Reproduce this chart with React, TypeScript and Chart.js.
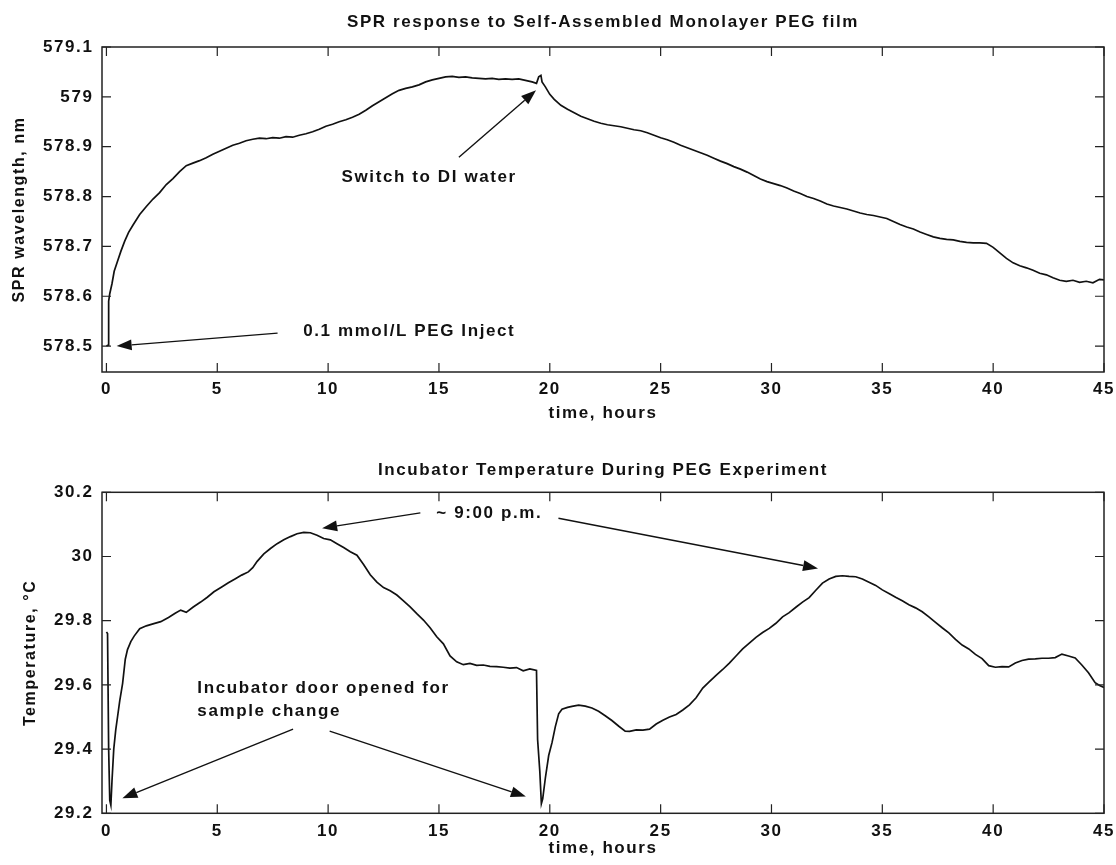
import React, { useEffect, useRef } from "react";
import { Chart, registerables } from "chart.js";

Chart.register(...registerables);

const FONT = '"Liberation Sans", Arial, Helvetica, sans-serif';
const INK = "#111111";
const SPACING = "1.6px";

// ---------- data ----------
const xTicks = [0, 5, 10, 15, 20, 25, 30, 35, 40, 45];

const sprTicks = [578.5, 578.6, 578.7, 578.8, 578.9, 579, 579.1];
const sprTickLabels = ["578.5", "578.6", "578.7", "578.8", "578.9", "579", "579.1"];

const tempTicks = [29.2, 29.4, 29.6, 29.8, 30, 30.2];
const tempTickLabels = ["29.2", "29.4", "29.6", "29.8", "30", "30.2"];

const sprHours = [
  0.0, 0.08, 0.1, 0.15, 0.25, 0.35, 0.5, 0.65, 0.82, 1.0, 1.2, 1.5, 1.8, 2.1, 2.4, 2.7, 3.0, 3.3,
  3.6, 3.9, 4.2, 4.5, 4.8, 5.1, 5.4, 5.7, 6.0, 6.3, 6.6, 6.9, 7.2, 7.5, 7.8, 8.1, 8.4, 8.7, 9.0,
  9.3, 9.6, 9.9, 10.2, 10.5, 10.8, 11.1, 11.4, 11.7, 12.0, 12.3, 12.6, 12.9, 13.2, 13.5, 13.8,
  14.1, 14.4, 14.7, 15.0, 15.3, 15.6, 15.9, 16.2, 16.5, 16.8, 17.1, 17.4, 17.7, 18.0, 18.3, 18.6,
  18.9, 19.2, 19.4, 19.5, 19.6, 19.65, 19.8, 20.0, 20.2, 20.5, 20.8, 21.1, 21.4, 21.7, 22.0, 22.3,
  22.6, 22.9, 23.2, 23.5, 23.8, 24.1, 24.4, 24.7, 25.0, 25.3, 25.6, 25.9, 26.2, 26.5, 26.8, 27.1,
  27.4, 27.7, 28.0, 28.3, 28.6, 28.9, 29.2, 29.5, 29.8, 30.1, 30.4, 30.7, 31.0, 31.3, 31.6, 31.9,
  32.2, 32.5, 32.8, 33.1, 33.4, 33.7, 34.0, 34.3, 34.6, 34.9, 35.2, 35.5, 35.8, 36.1, 36.4, 36.7,
  37.0, 37.3, 37.6, 37.9, 38.2, 38.5, 38.8, 39.1, 39.4, 39.7, 40.0, 40.3, 40.6, 40.9, 41.2, 41.5,
  41.8, 42.1, 42.4, 42.7, 43.0, 43.3, 43.6, 43.9, 44.2, 44.5, 44.8, 45.0,
];
const sprWavelength = [
  578.5, 578.502, 578.59, 578.605, 578.625, 578.65, 578.67, 578.69, 578.71, 578.728, 578.743,
  578.764, 578.78, 578.795, 578.808, 578.824, 578.836, 578.85, 578.862, 578.867, 578.872, 578.878,
  578.885, 578.891, 578.897, 578.903, 578.907, 578.912, 578.915, 578.917, 578.916, 578.918,
  578.917, 578.92, 578.919, 578.923, 578.926, 578.93, 578.935, 578.941, 578.945, 578.95, 578.954,
  578.959, 578.965, 578.973, 578.982, 578.99, 578.998, 579.006, 579.013, 579.017, 579.02, 579.024,
  579.03, 579.034, 579.037, 579.04, 579.041, 579.039, 579.04, 579.038, 579.037, 579.036, 579.037,
  579.035, 579.036, 579.035, 579.036, 579.033, 579.03, 579.027, 579.04, 579.043, 579.03, 579.02,
  579.005, 578.995, 578.983, 578.975, 578.968, 578.961, 578.956, 578.951, 578.947, 578.944,
  578.942, 578.94, 578.937, 578.934, 578.932, 578.928, 578.923, 578.918, 578.914, 578.909,
  578.903, 578.898, 578.893, 578.888, 578.883, 578.877, 578.871, 578.866, 578.86, 578.855,
  578.849, 578.842, 578.835, 578.83, 578.826, 578.822, 578.817, 578.811, 578.806, 578.8, 578.796,
  578.791, 578.785, 578.781, 578.778, 578.775, 578.771, 578.767, 578.764, 578.762, 578.759,
  578.756, 578.75, 578.744, 578.739, 578.735, 578.729, 578.724, 578.719, 578.716, 578.714,
  578.713, 578.71, 578.708, 578.707, 578.707, 578.706, 578.698, 578.687, 578.676, 578.667,
  578.661, 578.657, 578.652, 578.646, 578.643, 578.637, 578.632, 578.63, 578.632, 578.628,
  578.63, 578.627, 578.634, 578.633,
];

const tempHours = [
  0.0, 0.05, 0.1, 0.15, 0.2, 0.25, 0.33, 0.42, 0.5, 0.6, 0.73, 0.85, 0.95, 1.1, 1.25, 1.5, 1.8, 2.1,
  2.45, 2.8, 3.1, 3.35, 3.6, 3.9, 4.25, 4.55, 4.85, 5.2, 5.5, 5.8, 6.1, 6.4, 6.6, 6.8, 7.1, 7.4, 7.7,
  8.0, 8.3, 8.6, 8.9, 9.2, 9.5, 9.8, 10.1, 10.4, 10.7, 11.0, 11.3, 11.6, 11.9, 12.2, 12.5, 12.8,
  13.1, 13.4, 13.7, 14.0, 14.3, 14.6, 14.9, 15.2, 15.5, 15.8, 16.1, 16.4, 16.7, 17.0, 17.3, 17.6,
  17.9, 18.2, 18.5, 18.8, 19.1, 19.4, 19.45, 19.55, 19.62, 19.68, 19.8, 19.95, 20.1, 20.25, 20.4,
  20.55, 20.8, 21.0, 21.3, 21.6, 21.9, 22.2, 22.5, 22.8, 23.1, 23.4, 23.6, 23.9, 24.2, 24.5, 24.8,
  25.1, 25.4, 25.7, 26.0, 26.3, 26.6, 26.9, 27.2, 27.5, 27.8, 28.1, 28.4, 28.7, 29.0, 29.3, 29.6,
  29.9, 30.2, 30.5, 30.8, 31.1, 31.4, 31.7, 32.0, 32.3, 32.6, 32.9, 33.2, 33.5, 33.8, 34.1, 34.4,
  34.7, 35.0, 35.3, 35.6, 35.9, 36.2, 36.5, 36.8, 37.1, 37.4, 37.7, 38.0, 38.3, 38.6, 38.9, 39.2,
  39.5, 39.8, 40.1, 40.4, 40.7, 41.0, 41.3, 41.6, 41.9, 42.2, 42.5, 42.8, 43.1, 43.4, 43.7, 44.0,
  44.3, 44.6, 44.8, 45.0,
];
const tempCelsius = [
  29.765, 29.76, 29.4, 29.24, 29.225, 29.3, 29.4, 29.46, 29.5, 29.55, 29.605, 29.68, 29.71,
  29.735, 29.752, 29.775, 29.784, 29.79, 29.797, 29.81, 29.823, 29.833, 29.826, 29.842, 29.858,
  29.873, 29.89, 29.905, 29.918, 29.93, 29.942, 29.952, 29.965, 29.985, 30.008, 30.025, 30.04,
  30.052, 30.062, 30.071, 30.075, 30.074, 30.066, 30.056, 30.052, 30.04, 30.028, 30.015, 30.004,
  29.975, 29.943, 29.92, 29.903, 29.893, 29.88, 29.862, 29.843, 29.822, 29.802, 29.778, 29.75,
  29.728, 29.69, 29.672, 29.663, 29.667, 29.661, 29.662, 29.658, 29.657, 29.655, 29.652, 29.654,
  29.644, 29.65, 29.645, 29.43, 29.33, 29.23, 29.245, 29.31, 29.38, 29.42, 29.47, 29.51, 29.524,
  29.53, 29.533, 29.537, 29.534, 29.528, 29.518, 29.504, 29.489, 29.472, 29.456, 29.455, 29.46,
  29.459, 29.462, 29.478, 29.49, 29.5, 29.508, 29.522, 29.538, 29.56, 29.59, 29.61, 29.63,
  29.648, 29.668, 29.69, 29.712, 29.73, 29.748, 29.763, 29.776, 29.792, 29.812, 29.825, 29.842,
  29.858, 29.872, 29.895, 29.917, 29.93, 29.938, 29.94, 29.938, 29.937, 29.93, 29.92, 29.91,
  29.896, 29.885, 29.873, 29.862, 29.85, 29.84, 29.828, 29.812, 29.795, 29.778, 29.762, 29.742,
  29.724, 29.712, 29.695, 29.682, 29.66, 29.655, 29.657, 29.656, 29.668, 29.676, 29.68, 29.681,
  29.683, 29.683, 29.685, 29.696, 29.69, 29.684, 29.662, 29.638, 29.607, 29.598, 29.592,
];

// annotations (data coordinates)
const sprNotes = [
  { text: "Switch to DI water", x: 14.56, y: 578.839, align: "center" },
  { text: "0.1 mmol/L PEG Inject", x: 13.66, y: 578.53, align: "center" },
];
const sprArrows = [
  { fx: 15.9, fy: 578.879, tx: 19.38, ty: 579.013 },
  { fx: 7.72, fy: 578.526, tx: 0.46, ty: 578.5 },
];
const tempNotes = [
  { text: "~ 9:00 p.m.", x: 17.27, y: 30.136, align: "center" },
  { text: "Incubator door opened for", x: 4.1, y: 29.589, align: "left" },
  { text: "sample change", x: 4.1, y: 29.517, align: "left" },
];
const tempArrows = [
  { fx: 14.16, fy: 30.136, tx: 9.73, ty: 30.088 },
  { fx: 20.39, fy: 30.119, tx: 32.1, ty: 29.963 },
  { fx: 8.42, fy: 29.462, tx: 0.72, ty: 29.247 },
  { fx: 10.07, fy: 29.456, tx: 18.92, ty: 29.252 },
];

// ---------- plugins ----------
const spacingPlugin = {
  id: "spacing",
  beforeLayout(chart: any) {
    (chart.ctx as any).letterSpacing = SPACING;
  },
  beforeDraw(chart: any) {
    (chart.ctx as any).letterSpacing = SPACING;
  },
};

const framePlugin = {
  id: "frame",
  afterDatasetsDraw(chart: any, _args: any, opts: any) {
    const { ctx, chartArea: a, scales } = chart;
    const xs = scales.x;
    const ys = scales.y;
    ctx.save();
    ctx.strokeStyle = "#222";
    ctx.lineWidth = 1.5;
    ctx.strokeRect(a.left, a.top, a.right - a.left, a.bottom - a.top);
    const L = 9;
    ctx.lineWidth = 1.2;
    ctx.beginPath();
    xs.ticks.forEach((t: any) => {
      const p = xs.getPixelForValue(t.value);
      ctx.moveTo(p, a.bottom);
      ctx.lineTo(p, a.bottom - L);
      ctx.moveTo(p, a.top);
      ctx.lineTo(p, a.top + L);
    });
    ys.ticks.forEach((t: any) => {
      const p = ys.getPixelForValue(t.value);
      ctx.moveTo(a.left, p);
      ctx.lineTo(a.left + L, p);
      ctx.moveTo(a.right, p);
      ctx.lineTo(a.right - L, p);
    });
    ctx.stroke();

    ctx.strokeStyle = INK;
    ctx.fillStyle = INK;
    ctx.lineWidth = 1.4;
    (opts.arrows || []).forEach((ar: any) => {
      const x1 = xs.getPixelForValue(ar.fx);
      const y1 = ys.getPixelForValue(ar.fy);
      const x2 = xs.getPixelForValue(ar.tx);
      const y2 = ys.getPixelForValue(ar.ty);
      const ang = Math.atan2(y2 - y1, x2 - x1);
      const hl = 15;
      const hw = 5.5;
      const bx = x2 - hl * Math.cos(ang);
      const by = y2 - hl * Math.sin(ang);
      ctx.beginPath();
      ctx.moveTo(x1, y1);
      ctx.lineTo(bx, by);
      ctx.stroke();
      ctx.beginPath();
      ctx.moveTo(x2, y2);
      ctx.lineTo(bx + hw * Math.sin(ang), by - hw * Math.cos(ang));
      ctx.lineTo(bx - hw * Math.sin(ang), by + hw * Math.cos(ang));
      ctx.closePath();
      ctx.fill();
    });

    ctx.font = `bold 17px ${FONT}`;
    ctx.letterSpacing = SPACING;
    ctx.textBaseline = "middle";
    (opts.notes || []).forEach((n: any) => {
      ctx.textAlign = n.align;
      ctx.fillText(n.text, xs.getPixelForValue(n.x), ys.getPixelForValue(n.y));
    });
    ctx.restore();
  },
};

type Params = {
  hours: number[];
  values: number[];
  title: string;
  titleTop: number;
  titleBottom: number;
  yMin: number;
  yMax: number;
  yTicks: number[];
  yLabels: string[];
  yTitle: string;
  yTitlePad: number;
  xTickPad: number;
  xHeight: number;
  padBottom: number;
  notes: any[];
  arrows: any[];
};

function makeConfig(p: Params): any {
  const tickFont = { family: FONT, size: 17, weight: "bold" };
  return {
    type: "line",
    data: {
      datasets: [
        {
          data: p.hours.map((h, i) => ({ x: h, y: p.values[i] })),
          borderColor: INK,
          borderWidth: 1.7,
          pointRadius: 0,
          tension: 0,
          fill: false,
        },
      ],
    },
    options: {
      responsive: false,
      animation: false,
      layout: { padding: { left: 0, right: 12, top: 0, bottom: p.padBottom } },
      plugins: {
        legend: { display: false },
        tooltip: { enabled: false },
        title: {
          display: true,
          text: p.title,
          fullSize: false,
          color: INK,
          font: { family: FONT, size: 17, weight: "bold" },
          padding: { top: p.titleTop, bottom: p.titleBottom },
        },
        frame: { notes: p.notes, arrows: p.arrows },
      },
      scales: {
        x: {
          type: "linear",
          min: -0.2,
          max: 45,
          grid: { display: false, drawTicks: false },
          border: { display: false },
          afterBuildTicks: (s: any) => {
            s.ticks = xTicks.map((v) => ({ value: v }));
          },
          afterFit: (s: any) => {
            s.height = p.xHeight;
            s.paddingLeft = 0;
            s.paddingRight = 0;
          },
          ticks: {
            padding: p.xTickPad,
            color: INK,
            font: tickFont,
            maxRotation: 0,
            callback: (v: any) => String(v),
          },
          title: {
            display: true,
            text: "time, hours",
            color: INK,
            font: { family: FONT, size: 17, weight: "bold" },
            padding: { top: 0, bottom: 0 },
          },
        },
        y: {
          type: "linear",
          min: p.yMin,
          max: p.yMax,
          grid: { display: false, drawTicks: false },
          border: { display: false },
          afterBuildTicks: (s: any) => {
            s.ticks = p.yTicks.map((v) => ({ value: v }));
          },
          afterFit: (s: any) => {
            s.width = 102;
            s.paddingTop = 0;
            s.paddingBottom = 0;
          },
          ticks: {
            padding: 8.5,
            color: INK,
            font: tickFont,
            callback: (_v: any, i: number) => p.yLabels[i],
          },
          title: {
            display: true,
            text: p.yTitle,
            color: INK,
            font: { family: FONT, size: 16, weight: "bold" },
            padding: { top: p.yTitlePad, bottom: 0 },
          },
        },
      },
    },
    plugins: [spacingPlugin, framePlugin],
  };
}

function Panel({ params, top, height }: { params: Params; top: number; height: number }) {
  const ref = useRef<HTMLCanvasElement | null>(null);
  useEffect(() => {
    if (!ref.current) return;
    const chart = new Chart(ref.current, makeConfig(params));
    return () => chart.destroy();
  }, []);
  return (
    <canvas
      ref={ref}
      width={1116}
      height={height}
      style={{ position: "absolute", left: 0, top, width: 1116, height, display: "block" }}
    />
  );
}

const topParams: Params = {
  hours: sprHours,
  values: sprWavelength,
  title: "SPR response to Self-Assembled Monolayer PEG film",
  titleTop: 11.8,
  titleBottom: 14.8,
  yMin: 578.448,
  yMax: 579.1,
  yTicks: sprTicks,
  yLabels: sprTickLabels,
  yTitle: "SPR wavelength, nm",
  yTitlePad: 10,
  xTickPad: 6.8,
  xHeight: 51.2,
  padBottom: 12.8,
  notes: sprNotes,
  arrows: sprArrows,
};

const bottomParams: Params = {
  hours: tempHours,
  values: tempCelsius,
  title: "Incubator Temperature During PEG Experiment",
  titleTop: 23.8,
  titleBottom: 12.1,
  yMin: 29.2,
  yMax: 30.2,
  yTicks: tempTicks,
  yLabels: tempTickLabels,
  yTitle: "Temperature, °C",
  yTitlePad: 20.5,
  xTickPad: 8.2,
  xHeight: 44.9,
  padBottom: 6.8,
  notes: tempNotes,
  arrows: tempArrows,
};

export default function App() {
  return (
    <div
      style={{
        position: "absolute",
        left: 0,
        top: 0,
        width: 1116,
        height: 865,
        background: "#ffffff",
        overflow: "hidden",
      }}
    >
      <Panel params={topParams} top={0} height={436} />
      <Panel params={bottomParams} top={436} height={429} />
    </div>
  );
}
